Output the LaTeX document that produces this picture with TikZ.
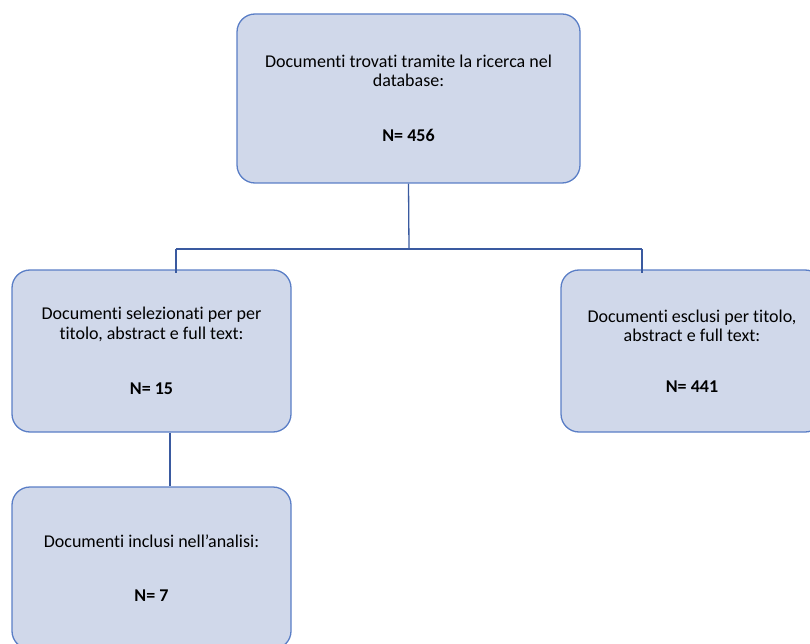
\documentclass[tikz,border=0pt]{standalone}
\usepackage{fontspec}
\setmainfont{Carlito}[Ligatures=NoCommon]
\definecolor{boxfill}{RGB}{208,216,234}
\definecolor{boxline}{RGB}{90,126,198}
\definecolor{linkline}{RGB}{58,90,160}
\begin{document}
\begin{tikzpicture}[x=1pt,y=-1pt,
  flowbox/.style={draw=boxline, fill=boxfill, line width=1.3pt, rounded corners=18pt,
    align=center, inner sep=0pt, font=\fontsize{18}{19.5}\selectfont},
  link/.style={draw=linkline, line width=1.3pt}]
\useasboundingbox (0,0) rectangle (810,644);
% boxes
\node[flowbox, minimum width=343pt, minimum height=169pt] (found) at (408.5,98.5)
  {Documenti trovati tramite la ricerca nel\\database:\\[35.5pt]\textbf{N= 456}};
\node[flowbox, minimum width=279pt, minimum height=162pt] (sel) at (151.5,351)
  {Documenti selezionati per per\\titolo, abstract e full text:\\[35.5pt]\textbf{N= 15}};
\node[flowbox, minimum width=262pt, minimum height=162pt] (excl) at (692,351)
  {Documenti esclusi per titolo,\\abstract e full text:\\[31.5pt]\textbf{N= 441}};
\node[flowbox, minimum width=279pt, minimum height=162pt] (incl) at (151.5,568)
  {Documenti inclusi nell’analisi:\\[35pt]\textbf{N= 7}};
% connectors
\coordinate (split) at (409,249);
\coordinate (dropL) at (176,249);
\coordinate (dropR) at (642,249);
\draw[link] (found.south) -- (split);
\draw[link] (dropL) -- (dropR);
\draw[link] (dropL) -- ([shift={(24.5pt,-4pt)}]sel.north);
\draw[link] (dropR) -- ([shift={(-50pt,-4pt)}]excl.north);
\draw[link] ([xshift=18.5pt]sel.south) -- ([xshift=18.5pt]incl.north);
\end{tikzpicture}
\end{document}
